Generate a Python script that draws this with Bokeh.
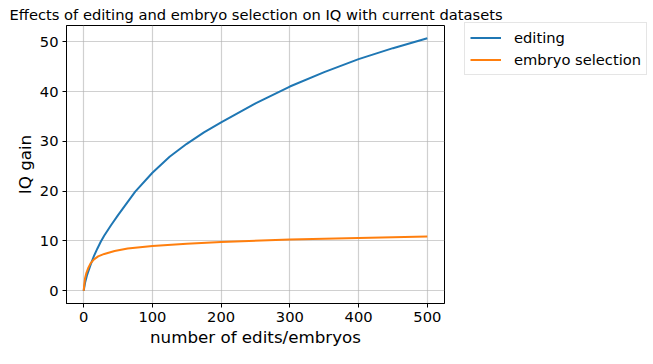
from bokeh.plotting import figure
from bokeh.models import FixedTicker, Legend, LegendItem, Range1d
from bokeh.embed import file_html
from bokeh.resources import INLINE

# data
edit_x = [0, 2, 5, 10, 15, 20, 25, 30, 40, 50, 75, 100, 125, 150, 175, 200, 250, 300, 350, 400, 450, 500]
edit_y = [0, 1.6, 3.2, 5.2, 7.0, 8.5, 9.9, 11.1, 13.2, 15.2, 19.9, 23.7, 26.9, 29.5, 31.8, 33.8, 37.6, 41.0, 43.9, 46.5, 48.7, 50.7]

emb_x = [0, 1, 2, 4, 7, 10, 15, 21, 30, 45, 64, 100, 150, 200, 300, 400, 500]
emb_y = [0, 1.5, 2.5, 3.6, 4.7, 5.5, 6.3, 6.9, 7.4, 8.0, 8.5, 9.0, 9.45, 9.8, 10.3, 10.6, 10.9]

x_ticks = [0, 100, 200, 300, 400, 500]
y_ticks = [0, 10, 20, 30, 40, 50]

title_text = "Effects of editing and embryo selection on IQ with current datasets"
x_label = "number of edits/embryos"
y_label = "IQ gain"
series_names = ["editing", "embryo selection"]
colors = ["#1f77b4", "#ff7f0e"]

FONT = "DejaVu Sans"

p = figure(
    frame_width=378, frame_height=278,
    min_border_left=66, min_border_right=200, min_border_top=25, min_border_bottom=50,
    x_range=Range1d(-25, 525), y_range=Range1d(-2.55, 53.25),
    output_backend="svg", toolbar_location=None,
    title=title_text,
)
p.title.text_font = FONT
p.title.text_font_size = "14.7px"
p.title.text_font_style = "normal"
p.title.align = "left"
p.title.offset = -57
p.title.standoff = 5
p.title.text_color = "black"

r1 = p.line(edit_x, edit_y, line_color=colors[0], line_width=2)
r2 = p.line(emb_x, emb_y, line_color=colors[1], line_width=2)

for ax in (p.xaxis[0], p.yaxis[0]):
    ax.major_label_text_font = FONT
    ax.major_label_text_font_size = "14.7px"
    ax.major_label_text_color = "black"
    ax.axis_label_text_font = FONT
    ax.axis_label_text_font_size = "16.7px"
    ax.axis_label_text_font_style = "normal"
    ax.axis_label_text_color = "black"
    ax.major_tick_in = 0
    ax.major_tick_out = 4
    ax.minor_tick_in = 0
    ax.minor_tick_out = 0
    ax.major_label_standoff = 4
    ax.axis_line_color = "black"
    ax.major_tick_line_color = "black"

p.xaxis[0].ticker = FixedTicker(ticks=x_ticks)
p.yaxis[0].ticker = FixedTicker(ticks=y_ticks)
p.xaxis[0].axis_label = x_label
p.yaxis[0].axis_label = y_label
p.xaxis[0].axis_label_standoff = 2
p.yaxis[0].axis_label_standoff = 2

p.xgrid.grid_line_color = "#b0b0b0"
p.ygrid.grid_line_color = "#b0b0b0"
p.xgrid.grid_line_alpha = 0.6
p.ygrid.grid_line_alpha = 0.6
p.xgrid.grid_line_width = 1.2
p.ygrid.grid_line_width = 1.2

p.outline_line_color = "black"
p.outline_line_width = 1

legend = Legend(
    items=[LegendItem(label=series_names[0], renderers=[r1]),
           LegendItem(label=series_names[1], renderers=[r2])],
    location=(20, 228),
    margin=0, padding=5, spacing=3,
    glyph_width=31, glyph_height=19, label_height=19, label_standoff=13,
    label_text_font=FONT, label_text_font_size="14.7px", label_text_color="black",
    border_line_color="#cccccc", border_line_width=1,
    background_fill_color="white", background_fill_alpha=0.8,
)
p.add_layout(legend, "right")

open("out.html", "w").write(file_html(p, INLINE))
